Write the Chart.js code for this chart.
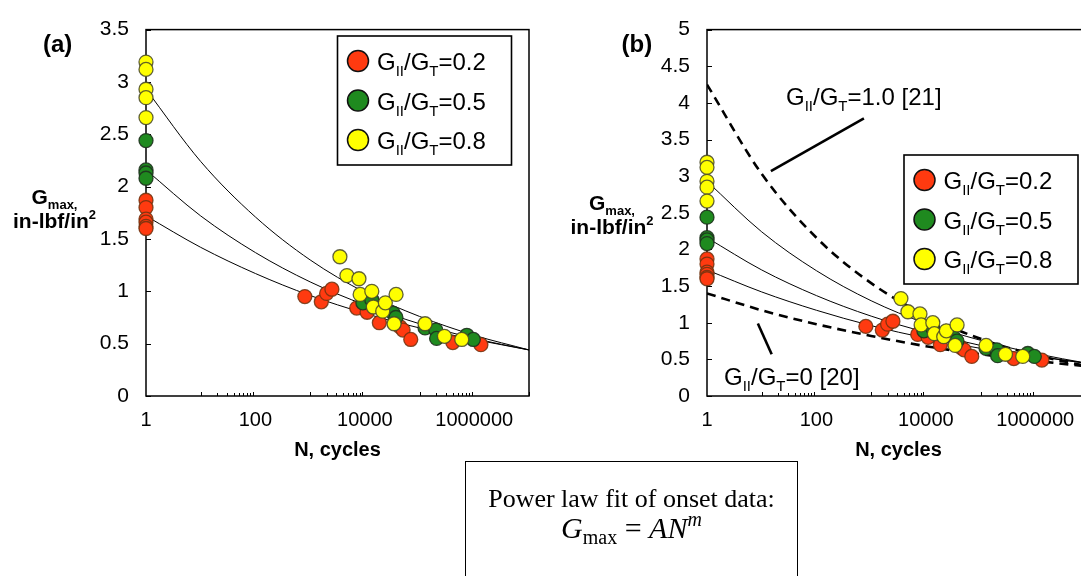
<!DOCTYPE html>
<html>
<head>
<meta charset="utf-8">
<script src="https://cdn.jsdelivr.net/npm/chart.js@4.4.0/dist/chart.umd.min.js"></script>
<style>
html, body { margin: 0; padding: 0; background: #fff; overflow: hidden; width: 1081px; height: 576px; }
#ca { position: absolute; left: 0; top: 0; }
#cb { position: absolute; left: 560px; top: 0; }
#fit { position: absolute; left: 465px; top: 461px; width: 331px; height: 140px; border: 1.5px solid #000;
       text-align: center; font-family: "Liberation Serif", "Times New Roman", serif; color: #000; }
#fit .l1 { font-size: 26px; margin-top: 22px; line-height: 30px; }
#fit .l2 { font-size: 30px; line-height: 36px; margin-top: -4px; }
#fit sub { font-size: 20px; vertical-align: -6px; line-height: 0; }
#fit sup { font-size: 20px; vertical-align: 12px; line-height: 0; }
</style>
</head>
<body>
<canvas id="ca" width="545" height="462"></canvas>
<canvas id="cb" width="545" height="462"></canvas>
<div id="fit">
  <div class="l1">Power law fit of onset data:</div>
  <div class="l2"><i>G</i><sub>max</sub> = <i>AN</i><sup><i>m</i></sup></div>
</div>
<script>
// onset data, N cycles vs Gmax (in-lbf/in^2)
const redN = [1, 1, 1, 1, 1, 1, 800, 1600, 2000, 2500, 7100, 11000, 18400, 44000, 50000, 69000, 405000, 1320000];
const redG = [1.87, 1.80, 1.69, 1.66, 1.62, 1.60, 0.95, 0.90, 0.98, 1.02, 0.84, 0.80, 0.70, 0.66, 0.63, 0.54, 0.51, 0.49];
const greenN = [1, 1, 1, 1, 9200, 13400, 33000, 37000, 126000, 198000, 205000, 730000, 960000];
const greenG = [2.44, 2.16, 2.13, 2.08, 0.89, 0.92, 0.79, 0.75, 0.65, 0.63, 0.55, 0.58, 0.54];
const yellowN = [1, 1, 1, 1, 1, 3500, 4700, 7800, 8200, 13400, 14300, 21200, 23700, 34200, 37200, 126000, 285000, 590000];
const yellowG = [3.19, 3.12, 2.93, 2.85, 2.66, 1.33, 1.15, 1.12, 0.97, 1.00, 0.85, 0.81, 0.89, 0.69, 0.97, 0.69, 0.57, 0.54];
const ratios = ['0.2', '0.5', '0.8'];

// fitted curves read at each decade
const curveN = [1, 10, 100, 1000, 10000, 100000, 1000000, 10000000];
const fit08 = [2.93, 2.24, 1.71, 1.30, 0.99, 0.76, 0.58, 0.44];
const fit05 = [2.16, 1.72, 1.37, 1.09, 0.87, 0.69, 0.55, 0.44];
const fit02 = [1.72, 1.42, 1.17, 0.96, 0.79, 0.65, 0.54, 0.44];
const ref10 = [4.25, 3.03, 2.16, 1.54, 1.10, 0.78, 0.56, 0.40];
const ref00 = [1.40, 1.17, 0.98, 0.82, 0.68, 0.57, 0.48, 0.40];

// leader lines for the reference labels in (b)
const lead10N = [738, 14.7], lead10G = [3.79, 3.07];
const lead00N = [8.5, 15.2], lead00G = [0.99, 0.57];

const xTicks = [1, 100, 10000, 1000000];

const FONT = '"Liberation Sans", Arial, sans-serif';
const RED = '#ff3a10', GREEN = '#1f8a1f', YELLOW = '#ffff00';

function pts(xs, ys) { return xs.map((x, i) => ({x: x, y: ys[i]})); }

function rich(ctx, parts, x, y, size, bold, align) {
  const b = bold ? 'bold ' : '';
  const fs = p => p[1] ? Math.round(size * 0.62) : size;
  let w = 0;
  parts.forEach(p => { ctx.font = b + fs(p) + 'px ' + FONT; w += ctx.measureText(p[0]).width; });
  let cx = align === 'center' ? x - w / 2 : x;
  ctx.textAlign = 'left';
  ctx.textBaseline = 'alphabetic';
  ctx.fillStyle = '#000';
  parts.forEach(p => {
    ctx.font = b + fs(p) + 'px ' + FONT;
    const dy = p[1] === 'sub' ? size * 0.25 : p[1] === 'sup' ? -size * 0.4 : 0;
    ctx.fillText(p[0], cx, y + dy);
    cx += ctx.measureText(p[0]).width;
  });
}

function ratioText(v) { return [['G', ''], ['II', 'sub'], ['/G', ''], ['T', 'sub'], ['=' + v, '']]; }

function legendBox(ctx, x, y) {
  ctx.save();
  ctx.fillStyle = '#fff';
  ctx.fillRect(x, y, 174, 129);
  ctx.lineWidth = 1.6;
  ctx.strokeStyle = '#000';
  ctx.strokeRect(x, y, 174, 129);
  [RED, GREEN, YELLOW].forEach((c, i) => {
    const cy = y + 25 + i * 39.5;
    ctx.beginPath();
    ctx.arc(x + 20.5, cy, 10.5, 0, Math.PI * 2);
    ctx.fillStyle = c;
    ctx.fill();
    ctx.lineWidth = 1.5;
    ctx.strokeStyle = '#111';
    ctx.stroke();
    rich(ctx, ratioText(ratios[i]), x + 39.5, cy + 9, 24, false);
  });
  ctx.restore();
}

function decor(o) {
  return {
    id: 'decor',
    beforeDatasetsDraw(chart) {
      const ctx = chart.ctx, a = chart.chartArea;
      const xs = chart.scales.x, ys = chart.scales.y;
      ctx.save();
      ctx.strokeStyle = '#000';
      ctx.lineWidth = 1.5;
      ctx.strokeRect(a.left, a.top, a.right - a.left, a.bottom - a.top);
      ctx.lineWidth = 1;
      ctx.beginPath();
      [1, 100, 10000, 1000000].forEach(base => {
        for (let k = 1; k <= 9; k++) {
          const v = base * 10 * k;
          if (v > 10000000) break;
          const px = Math.round(xs.getPixelForValue(v)) + 0.5;
          ctx.moveTo(px, a.bottom);
          ctx.lineTo(px, a.bottom - (k === 1 || k === 9 ? 4 : 3));
        }
      });
      ys.ticks.forEach(t => {
        const py = Math.round(ys.getPixelForValue(t.value)) + 0.5;
        ctx.moveTo(a.left, py);
        ctx.lineTo(a.left + 5, py);
      });
      ctx.stroke();
      ctx.restore();
    },
    afterDraw(chart) {
      const ctx = chart.ctx;
      ctx.save();
      rich(ctx, [[o.tag, '']], o.tagX, 52, 24, true);
      rich(ctx, [['G', ''], ['max,', 'sub']], o.titleX, o.titleY, 21, true, 'center');
      rich(ctx, [['in-lbf/in', ''], ['2', 'sup']], o.titleX, o.titleY + 23.5, 21, true, 'center');
      legendBox(ctx, o.legX, o.legY);
      if (o.notes) {
        rich(ctx, [['G', ''], ['II', 'sub'], ['/G', ''], ['T', 'sub'], ['=1.0 [21]', '']], 226, 105, 24, false);
        rich(ctx, [['G', ''], ['II', 'sub'], ['/G', ''], ['T', 'sub'], ['=0 [20]', '']], 164, 385, 24, false);
      }
      ctx.restore();
    }
  };
}

function scatterSet(xs, ys, fill, edge) {
  return {
    type: 'scatter', data: pts(xs, ys), showLine: false, clip: false,
    pointRadius: 7, pointHoverRadius: 7, pointBackgroundColor: fill,
    pointBorderColor: edge, pointBorderWidth: 1.3
  };
}

function lineSet(ys, width, dash) {
  return {
    type: 'line', data: pts(curveN, ys), borderColor: '#000', borderWidth: width,
    borderDash: dash || [], pointRadius: 0, cubicInterpolationMode: 'monotone', fill: false
  };
}

function makeChart(id, yMax, padLeft, padRight, o) {
  const sets = [
    scatterSet(yellowN, yellowG, YELLOW, 'rgba(70,70,40,0.85)'),
    scatterSet(greenN, greenG, GREEN, 'rgba(30,50,30,0.9)'),
    scatterSet(redN, redG, RED, 'rgba(110,50,15,0.85)'),
    lineSet(fit08, 1),
    lineSet(fit05, 1),
    lineSet(fit02, 1)
  ];
  if (o.notes) {
    sets.push(lineSet(ref10, 2.6, [9, 6]));
    sets.push(lineSet(ref00, 2.6, [9, 6]));
    sets.push({type: 'line', data: pts(lead10N, lead10G), borderColor: '#000', borderWidth: 2.6, pointRadius: 0});
    sets.push({type: 'line', data: pts(lead00N, lead00G), borderColor: '#000', borderWidth: 2.6, pointRadius: 0});
  }
  return new Chart(document.getElementById(id), {
    type: 'scatter',
    data: {datasets: sets},
    options: {
      responsive: false,
      animation: false,
      layout: {padding: {left: padLeft, right: padRight, top: 22, bottom: 0}},
      plugins: {legend: {display: false}, tooltip: {enabled: false}},
      scales: {
        x: {
          type: 'logarithmic', min: 1, max: 10000000,
          afterBuildTicks: s => { s.ticks = xTicks.map(v => ({value: v})); },
          afterFit: s => { s.height = 66; },
          grid: {display: false, drawTicks: false},
          border: {display: false},
          ticks: {color: '#000', padding: 12, font: {size: 20, family: FONT}, callback: v => String(v)},
          title: {display: true, text: 'N, cycles', color: '#000', padding: 0, font: {size: 20, weight: 'bold', family: FONT}}
        },
        y: {
          min: 0, max: yMax,
          afterFit: s => { s.width = 70; },
          grid: {display: false, drawTicks: false},
          border: {display: false},
          ticks: {stepSize: 0.5, color: '#000', padding: 17, font: {size: 21, family: FONT},
                  callback: v => String(Math.round(v * 10) / 10)}
        }
      }
    },
    plugins: [decor(o)]
  });
}

makeChart('ca', 3.5, 76, 16, {tag: '(a)', tagX: 43, titleX: 54.5, titleY: 204, legX: 337.5, legY: 36});
makeChart('cb', 5, 77, 15, {tag: '(b)', tagX: 61.5, titleX: 52, titleY: 210, legX: 344, legY: 155, notes: true});
</script>
</body>
</html>
